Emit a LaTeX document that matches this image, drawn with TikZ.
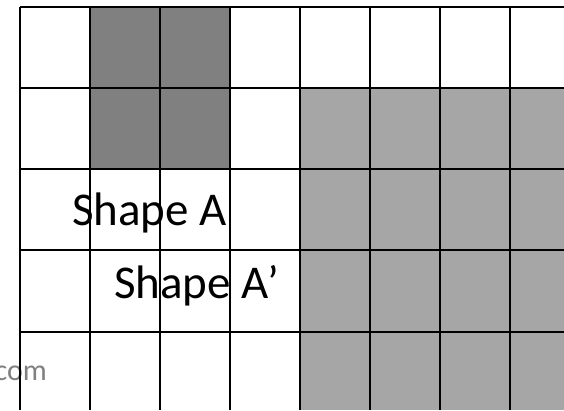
\documentclass[tikz,border=0pt]{standalone}
\usepackage{fontspec}
\setmainfont{Carlito}
\definecolor{darkcell}{HTML}{808080}
\definecolor{lightcell}{HTML}{A6A6A6}
\definecolor{marktext}{HTML}{808080}
\begin{document}
\begin{tikzpicture}[x=1pt,y=-1pt,
  gridline/.style={line width=2.6pt,black},
  bigtext/.style={font=\fontsize{47}{50}\selectfont,inner sep=0pt,anchor=base west}]
\useasboundingbox (0,0) rectangle (564,410);
\fill[white] (0,0) rectangle (564,410);
% shaded cells
\fill[darkcell] (90,7) rectangle (230,169);
\fill[lightcell] (300,88) rectangle (564,410);
% watermark fragment
\node[font=\fontsize{30}{32}\selectfont,text=marktext,inner sep=0pt,anchor=base east] (wm) at (47,380) {com};
% grid
\foreach \x in {20,90,160,230,300,370,440,510}
  \draw[gridline] (\x,7) -- (\x,410);
\foreach \y in {7,88,169,250,332}
  \draw[gridline] (20,\y) -- (564,\y);
% labels
\node[bigtext] (a) at (72,225) {Shape A};
\node[bigtext] (b) at (114,298) {Shape A’};
\end{tikzpicture}
\end{document}
